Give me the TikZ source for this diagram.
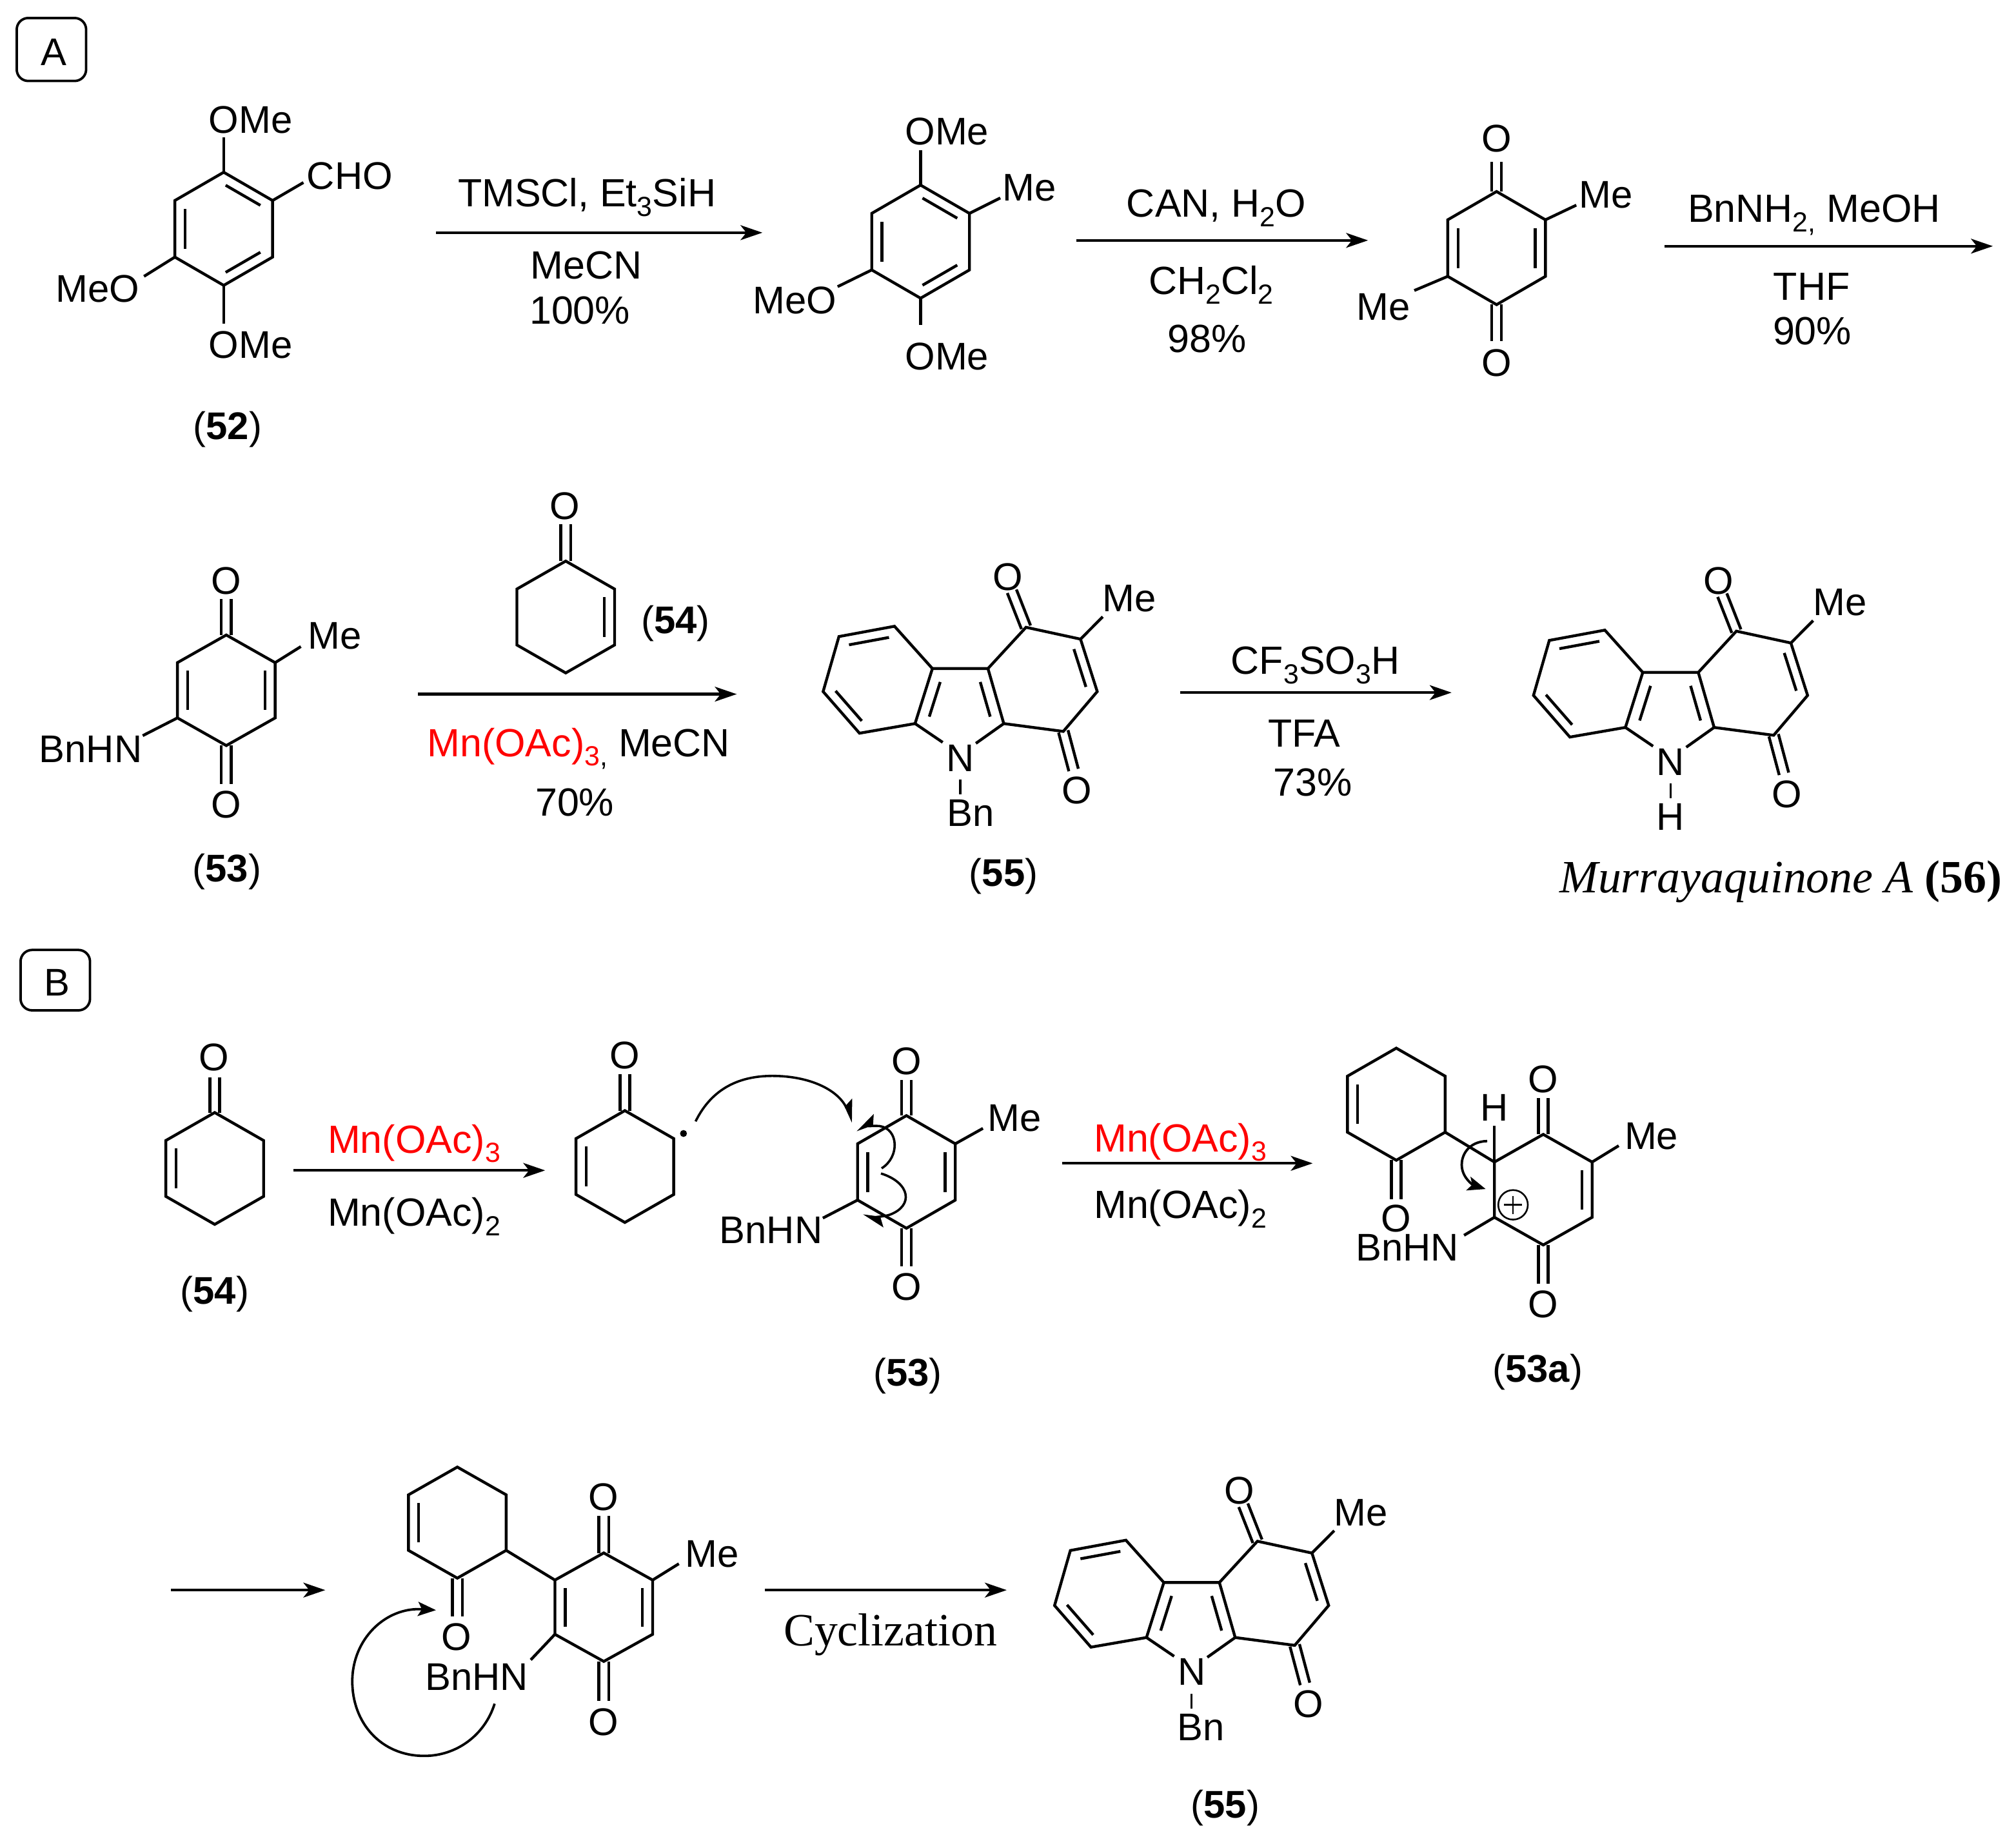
\documentclass[tikz,border=0pt]{standalone}
\usepackage{fontspec}
\setmainfont{Liberation Sans}
\newfontfamily\tms{Liberation Serif}
\usetikzlibrary{calc,arrows.meta}
\definecolor{rxred}{RGB}{255,0,0}
\tikzset{
  bond/.style={line width=2.2pt,line join=miter},
  thinbond/.style={line width=1.7pt},
  rxn/.style={line width=2.2pt,-{Stealth[length=17pt,width=11.5pt,inset=4.5pt]}},
  curlyfull/.style={line width=1.9pt,-{Stealth[length=14pt,width=11pt,inset=3pt]}},
  curlyhalfL/.style={line width=1.8pt,-{Stealth[length=15pt,width=14pt,inset=3pt,left]}},
  curlyhalfR/.style={line width=1.8pt,-{Stealth[length=15pt,width=14pt,inset=3pt,right]}},
  lbl/.style={anchor=base,inner sep=0pt,outer sep=0pt,font=\fontsize{30}{30}\selectfont},
  rlbl/.style={anchor=base,inner sep=0pt,outer sep=0pt,font=\fontsize{30.6}{30.6}\selectfont},
  serifl/.style={anchor=base,inner sep=0pt,outer sep=0pt,font=\tms\fontsize{36}{36}\selectfont},
  panel/.style={draw,line width=1.9pt,rounded corners=9pt}
}
\newcommand\sub[1]{\raisebox{-0.24em}{\fontsize{21.5}{21.5}\selectfont #1}}
\newcommand\T[4]{\node[lbl] (#1) at (#2,#3) {#4};}
\newcommand\Rg[4]{\node[rlbl] (#1) at (#2,#3) {#4};}
\newcommand\Hex[5]{%
  \coordinate (#1-c) at (#2,#3);
  \coordinate (#1-1) at ($(#2,#3)+(0,-#4)$);
  \coordinate (#1-2) at ($(#2,#3)+(#5,-0.5*#4)$);
  \coordinate (#1-3) at ($(#2,#3)+(#5,0.5*#4)$);
  \coordinate (#1-4) at ($(#2,#3)+(0,#4)$);
  \coordinate (#1-5) at ($(#2,#3)+(-#5,0.5*#4)$);
  \coordinate (#1-6) at ($(#2,#3)+(-#5,-0.5*#4)$);
  \draw[bond] (#1-1)--(#1-2)--(#1-3)--(#1-4)--(#1-5)--(#1-6)--cycle;}
\newcommand\Inner[4]{\draw[bond] ($(#1)!.05!(#2)!#4!(#3)$) -- ($(#2)!.05!(#1)!#4!(#3)$);}
\newcommand\Dbl[3]{\Inner{#1-#2}{#1-#3}{#1-c}{.21}}
\newcommand\CO[2]{%
  \draw[bond] ($(#1)!3.8pt!90:(#2)$) -- ($(#2)!3.8pt!-90:(#1)$);
  \draw[bond] ($(#1)!3.8pt!-90:(#2)$) -- ($(#2)!3.8pt!90:(#1)$);}
\newcommand\Rxn[4]{%
  \coordinate (#1s) at (#2,#4);
  \coordinate (#1e) at (#3,#4);
  \draw[rxn] (#1s) -- (#1e);}
\newcommand\Carb[5]{% prefix dx dy sub-label x of sub-label
 \begin{scope}[shift={(#2,#3)}]
  \coordinate (#1A) at (695.7,487.2);
  \coordinate (#1B) at (725.2,520.1);
  \coordinate (#1C) at (711.7,562.9);
  \coordinate (#1D) at (668.5,570.4);
  \coordinate (#1E) at (640.2,538);
  \coordinate (#1F) at (652.5,495.2);
  \coordinate (#1G) at (768.4,520.1);
  \coordinate (#1H) at (780.7,562.9);
  \coordinate (#1I) at (798,488);
  \coordinate (#1J) at (840.4,497.2);
  \coordinate (#1K) at (853.4,538);
  \coordinate (#1L) at (827,569);
  \coordinate (#1bc) at (683,529);
  \coordinate (#1fc) at (747,550);
  \coordinate (#1qc) at (812,528);
  \draw[bond] (#1A)--(#1B)--(#1C)--(#1D)--(#1E)--(#1F)--cycle;
  \draw[bond] (#1B)--(#1G)--(#1H)--(#1L)--(#1K)--(#1J)--(#1I)--(#1G);
  \Inner{#1F}{#1A}{#1bc}{.2}
  \Inner{#1D}{#1E}{#1bc}{.2}
  \Inner{#1B}{#1C}{#1fc}{.3}
  \Inner{#1G}{#1H}{#1fc}{.3}
  \Inner{#1J}{#1K}{#1qc}{.2}
  \draw[bond] (#1C) -- (733.2,577.5);
  \draw[bond] (#1H) -- (759,578.3);
  \draw[thinbond] (746.8,606.6) -- (746.8,618);
  \CO{#1I}{787,460}
  \CO{#1L}{835,599}
  \draw[bond] (#1J) -- (857.7,479.8);
  \T{#1N}{746.8}{600}{N}
  \T{#1Ot}{784}{459}{O}
  \T{#1Ob}{837.5}{625}{O}
  \T{#1Me}{878.5}{476}{Me}
  \T{#1Sub}{#5}{643}{#4}
 \end{scope}}
\begin{document}
\begin{tikzpicture}[x=1pt,y=-1pt]
\useasboundingbox (0,0) rectangle (1568,1427.1);

% panels
\node[panel,minimum width=54pt,minimum height=49pt,inner sep=0pt] (panelA) at (40,38.5) {};
\T{panelAt}{42}{51}{A}
\node[panel,minimum width=54pt,minimum height=47pt,inner sep=0pt] (panelB) at (43,762.5) {};
\T{panelBt}{44.5}{774.5}{B}

% ---------- 52
\Hex{s}{174}{178}{44}{38}
\Dbl{s}{1}{2}\Dbl{s}{3}{4}\Dbl{s}{5}{6}
\draw[bond] (s-1) -- (174,107);
\draw[bond] (s-4) -- (174,252);
\draw[bond] (s-2) -- (236,142);
\draw[bond] (s-5) -- (112,215);
\T{s1}{195}{103.5}{OMe}
\T{s2}{195}{278.5}{OMe}
\T{s3}{272}{147}{CHO}
\T{s4}{76}{235}{MeO}
\T{s5}{177}{342}{(\textbf{52})}

\Rxn{r1}{339}{593}{181}
\Rg{r1a}{456.5}{161}{TMSCl, Et\sub{3}SiH}
\Rg{r1b}{456}{217}{MeCN}
\Rg{r1c}{451}{252}{100\%}

% ---------- toluene
\Hex{t}{716}{188}{44}{38}
\Dbl{t}{1}{2}\Dbl{t}{3}{4}\Dbl{t}{5}{6}
\draw[bond] (t-1) -- (716,117);
\draw[bond] (t-4) -- (716,253);
\draw[bond] (t-2) -- (778,154);
\draw[bond] (t-5) -- (651.5,223);
\T{t1}{736.5}{112.5}{OMe}
\T{t2}{736.5}{287.5}{OMe}
\T{t3}{800.5}{156}{Me}
\T{t4}{618}{244}{MeO}

\Rxn{r2}{837}{1064}{187}
\Rg{r2a}{946}{169}{CAN, H\sub{2}O}
\Rg{r2b}{942}{229}{CH\sub{2}Cl\sub{2}}
\Rg{r2c}{939}{274}{98\%}

% ---------- xyloquinone
\Hex{x}{1164}{193}{44}{38}
\Dbl{x}{2}{3}\Dbl{x}{5}{6}
\CO{x-1}{1164,126}
\CO{x-4}{1164,265.5}
\draw[bond] (x-2) -- (1226,159.6);
\draw[bond] (x-5) -- (1100,226);
\T{x1}{1164}{118}{O}
\T{x2}{1164}{292.5}{O}
\T{x3}{1249}{162}{Me}
\T{x4}{1076}{249}{Me}

\Rxn{r3}{1294.5}{1550}{191.5}
\Rg{r3a}{1411}{173}{BnNH\sub{2,} MeOH}
\Rg{r3b}{1409}{233.5}{THF}
\Rg{r3c}{1409.5}{268}{90\%}

% ---------- 53
\Hex{a}{176}{537}{43}{38}
\Dbl{a}{2}{3}\Dbl{a}{5}{6}
\CO{a-1}{176,466}
\CO{a-4}{176,610}
\draw[bond] (a-2) -- (234,503);
\draw[bond] (a-5) -- (111,572.3);
\T{a1}{176}{462}{O}
\T{a2}{176}{636.5}{O}
\T{a3}{260.5}{505}{Me}
\T{a4}{70.5}{593}{BnHN}
\T{a5}{176.5}{686}{(\textbf{53})}

% ---------- 54 (top)
\Hex{b}{440}{480}{43.5}{38}
\Dbl{b}{2}{3}
\CO{b-1}{440,408}
\T{b1}{439.5}{404}{O}
\T{b2}{525.5}{493}{(\textbf{54})}

\Rxn{r4}{325}{573}{540}
\Rg{r4a}{450}{588.5}{\textcolor{rxred}{Mn(OAc)\sub{3}}\sub{,} MeCN}
\Rg{r4b}{447}{635}{70\%}

% ---------- 55, 56
\Carb{c}{0}{0}{Bn}{755}
\T{c9}{780.5}{689.5}{(\textbf{55})}

\Rxn{r5}{918}{1129}{538.8}
\Rg{r5a}{1023}{524.5}{CF\sub{3}SO\sub{3}H}
\Rg{r5b}{1014.5}{581}{TFA}
\Rg{r5c}{1021}{619}{73\%}

\Carb{d}{552.5}{3}{H}{746.8}
\node[serifl] (d9) at (1385,694.5) {\textit{Murrayaquinone A} \textbf{(56)}};

% ---------- B: 54
\Hex{e}{167}{909}{43.5}{38}
\Dbl{e}{5}{6}
\CO{e-1}{167,838}
\T{e1}{166.5}{833}{O}
\T{e2}{167}{1014.5}{(\textbf{54})}

\Rxn{r6}{228}{424}{910.5}
\Rg{r6a}{322}{897}{\textcolor{rxred}{Mn(OAc)\sub{3}}}
\Rg{r6b}{322}{954}{Mn(OAc)\sub{2}}

% ---------- radical + 53
\Hex{f}{486}{907.5}{43.5}{38}
\Dbl{f}{5}{6}
\CO{f-1}{486,835.7}
\T{f1}{486}{831.5}{O}
\node[circle,fill,inner sep=0pt,minimum size=5.4pt] (fdot) at (531.6,881.8) {};

\Hex{g}{705}{911.7}{43.8}{38}
\Dbl{g}{2}{3}\Dbl{g}{5}{6}
\CO{g-1}{705,840}
\CO{g-4}{705,985.3}
\draw[bond] (g-2) -- (764.5,877.8);
\draw[bond] (g-5) -- (640,947.6);
\T{g1}{705}{836}{O}
\T{g2}{705}{1011.5}{O}
\T{g3}{789}{880}{Me}
\T{g4}{599.7}{967.5}{BnHN}
\T{g5}{706}{1078}{(\textbf{53})}

\coordinate (m1s) at (541,872.4);
\coordinate (m1e) at (663.4,873);
\draw[curlyhalfL] (m1s) .. controls (554,846) and (576,837) .. (600.7,837) .. controls (630,837) and (652,848) .. (m1e);
\coordinate (m2s) at (685.7,908.9);
\coordinate (m2e) at (666,879.2);
\draw[curlyhalfR] (m2s) .. controls (700,900) and (699,878) .. (684,876) .. controls (678,875.5) and (672,877) .. (m2e);
\coordinate (m3s) at (685.2,912.9);
\coordinate (m3e) at (671.1,945.6);
\draw[curlyhalfL] (m3s) .. controls (708,920) and (711,938) .. (692,945) .. controls (686,947) and (678,946.5) .. (m3e);

\Rxn{r7}{826}{1021}{905}
\Rg{r7a}{918}{896}{\textcolor{rxred}{Mn(OAc)\sub{3}}}
\Rg{r7b}{918}{948}{Mn(OAc)\sub{2}}

% ---------- 53a
\Hex{h}{1086}{859}{43.6}{38}
\Dbl{h}{5}{6}
\CO{h-4}{1086,933}
\T{h1}{1086}{958.5}{O}
\Hex{i}{1200.3}{925.5}{43}{38}
\Inner{i-2}{i-3}{i-c}{.21}
\draw[bond] (h-3) -- (i-6);
\draw[bond] (i-6) -- (1162.3,875.8);
\CO{i-1}{1200.3,854.4}
\CO{i-4}{1200.3,998.8}
\draw[bond] (i-2) -- (1259,891.3);
\draw[bond] (i-5) -- (1138.7,961);
\T{i1}{1162.3}{872}{H}
\T{i2}{1200.3}{850}{O}
\T{i3}{1200.3}{1025}{O}
\T{i4}{1284.4}{894}{Me}
\T{i5}{1094.6}{981}{BnHN}
\T{i6}{1196}{1075}{(\textbf{53a})}
\node[circle,draw,line width=1.3pt,inner sep=0pt,minimum size=23pt] (plus) at (1176.8,937.3) {};
\draw[line width=1.3pt] ($(plus.center)+(-7,0)$) -- ($(plus.center)+(7,0)$);
\draw[line width=1.3pt] ($(plus.center)+(0,-7)$) -- ($(plus.center)+(0,7)$);
\coordinate (m4s) at (1156.7,887.7);
\coordinate (m4e) at (1155.5,925);
\draw[curlyfull] (m4s) .. controls (1142,888) and (1136,899) .. (1137,908) .. controls (1138,917) and (1146,922) .. (m4e);

% ---------- bottom row
\Rxn{r8}{133}{253}{1237}

\Hex{j}{355.7}{1184.5}{43.2}{38}
\Dbl{j}{5}{6}
\CO{j-4}{355.7,1257.6}
\T{j1}{355}{1284}{O}
\Hex{k}{469.6}{1250.3}{42.2}{38}
\Dbl{k}{2}{3}\Dbl{k}{5}{6}
\draw[bond] (j-3) -- (k-6);
\CO{k-1}{469.6,1179.3}
\CO{k-4}{469.6,1323}
\draw[bond] (k-2) -- (528,1216.5);
\draw[bond] (k-5) -- (412.8,1291.3);
\T{k1}{469.6}{1175}{O}
\T{k2}{469.6}{1350}{O}
\T{k3}{553.7}{1219}{Me}
\T{k4}{370.8}{1315}{BnHN}
\coordinate (m5s) at (384.7,1325.4);
\coordinate (m5e) at (339.1,1252.6);
\draw[curlyfull] (m5s) .. controls (377,1350) and (355,1366) .. (330,1366) .. controls (296,1366) and (274,1340) .. (274,1308) .. controls (274,1275) and (300,1250) .. (m5e);

\Rxn{r9}{595}{783}{1237}
\node[serifl] (r9a) at (692.5,1280.5) {Cyclization};

\Carb{l}{180}{711}{Bn}{754}
\T{l9}{953}{1414}{(\textbf{55})}
\end{tikzpicture}
\end{document}
